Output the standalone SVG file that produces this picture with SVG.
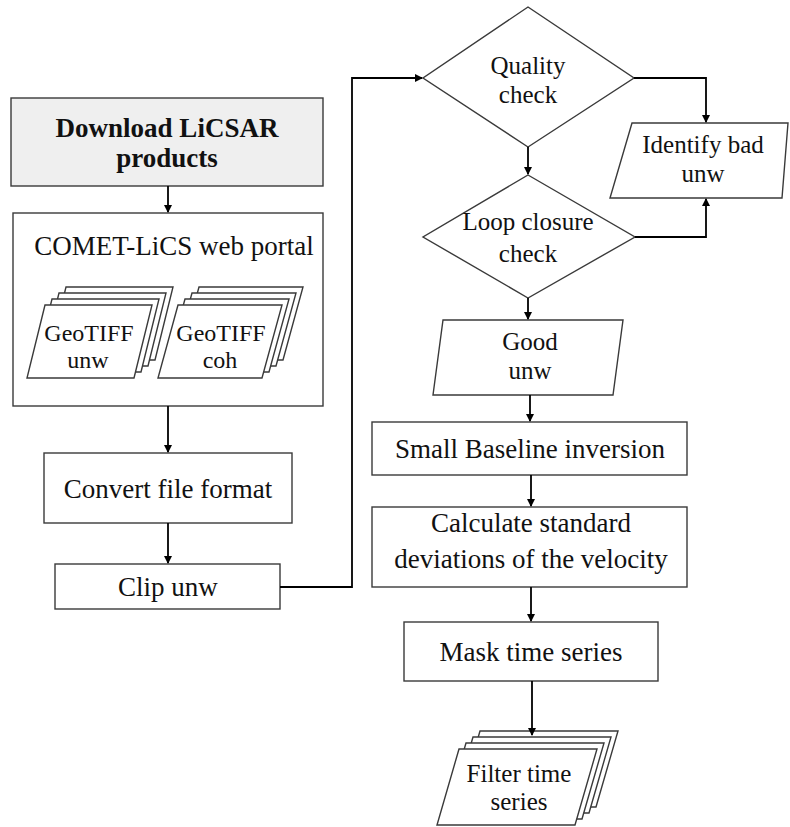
<svg xmlns="http://www.w3.org/2000/svg" width="790" height="827" viewBox="0 0 790 827">
<defs>
<marker id="arr" markerWidth="8" markerHeight="8" refX="7" refY="4" orient="auto" markerUnits="userSpaceOnUse">
<path d="M0,0 L8,4 L0,8 Z" fill="#000"/>
</marker>
<style>
.box{fill:#fff;stroke:#3a3a3a;stroke-width:1.4}
.gray{fill:#efefef}
.t{font-family:"Liberation Serif","Times New Roman",serif;font-size:27px;fill:#111;text-anchor:middle}
.s{font-size:25px}
.sm{font-size:24px}
.b{font-weight:bold}
.c{fill:none;stroke:#000;stroke-width:1.8}
</style>
</defs>
<rect width="790" height="827" fill="#fff"/>

<g id="download">
<rect class="box gray" x="11" y="98" width="312" height="88"/>
<text class="t b" x="167" y="137">Download LiCSAR</text>
<text class="t b" x="167" y="167">products</text>
</g>

<g id="comet">
<rect class="box" x="13" y="213" width="310" height="193"/>
<text class="t" x="174" y="255">COMET-LiCS web portal</text>
</g>

<g id="geotiff-unw">
<polygon class="box" points="66,287 173,287 155,360 48,360"/>
<polygon class="box" points="59,293 166,293 148,366 41,366"/>
<polygon class="box" points="52,299 159,299 141,372 34,372"/>
<polygon class="box" points="45,305 152,305 134,378 27,378"/>
<text class="t sm" x="89" y="341">GeoTIFF</text>
<text class="t sm" x="88" y="368">unw</text>
</g>

<g id="geotiff-coh">
<polygon class="box" points="199,287 303,287 283,360 179,360"/>
<polygon class="box" points="192,293 296,293 276,366 172,366"/>
<polygon class="box" points="185,299 289,299 269,372 165,372"/>
<polygon class="box" points="178,305 282,305 262,378 158,378"/>
<text class="t sm" x="221" y="341">GeoTIFF</text>
<text class="t sm" x="220" y="368">coh</text>
</g>

<g id="convert">
<rect class="box" x="44" y="453" width="248" height="70"/>
<text class="t" x="168" y="498">Convert file format</text>
</g>

<g id="clip">
<rect class="box" x="55" y="564" width="225" height="45"/>
<text class="t" x="168" y="596">Clip unw</text>
</g>

<g id="quality">
<polygon class="box" points="528,7 634,78 528,147 423,78"/>
<text class="t s" x="528" y="74">Quality</text>
<text class="t s" x="528" y="103">check</text>
</g>

<g id="identify">
<polygon class="box" points="632,123 788,123 782,198 610,198"/>
<text class="t s" x="703" y="153">Identify bad</text>
<text class="t s" x="703" y="182">unw</text>
</g>

<g id="loop">
<polygon class="box" points="528,175 635,237 528,298 423,237"/>
<text class="t s" x="528" y="230">Loop closure</text>
<text class="t s" x="528" y="262">check</text>
</g>

<g id="good">
<polygon class="box" points="443,320 623,320 613,395 433,395"/>
<text class="t s" x="530" y="350">Good</text>
<text class="t s" x="530" y="379">unw</text>
</g>

<g id="sbas">
<rect class="box" x="372" y="422" width="315" height="53"/>
<text class="t" x="530" y="458">Small Baseline inversion</text>
</g>

<g id="std">
<rect class="box" x="372" y="507" width="315" height="80"/>
<text class="t" x="531" y="532">Calculate standard</text>
<text class="t" x="531" y="568">deviations of the velocity</text>
</g>

<g id="mask">
<rect class="box" x="404" y="622" width="254" height="59"/>
<text class="t" x="531" y="661">Mask time series</text>
</g>

<g id="filter">
<polygon class="box" points="480,731 618,731 596,807 458,807"/>
<polygon class="box" points="473,737 611,737 589,813 451,813"/>
<polygon class="box" points="466,743 604,743 582,819 444,819"/>
<polygon class="box" points="459,749 597,749 575,825 437,825"/>
<text class="t s" x="519" y="782">Filter time</text>
<text class="t s" x="519" y="810">series</text>
</g>

<g id="connectors">
<line class="c" x1="168" y1="186" x2="168" y2="212" marker-end="url(#arr)"/>
<line class="c" x1="168" y1="406" x2="168" y2="452" marker-end="url(#arr)"/>
<line class="c" x1="168" y1="523" x2="168" y2="563" marker-end="url(#arr)"/>
<polyline class="c" points="280,587 352,587 352,78 422,78" marker-end="url(#arr)"/>
<line class="c" x1="528" y1="147" x2="528" y2="174" marker-end="url(#arr)"/>
<polyline class="c" points="634,78 706,78 706,122" marker-end="url(#arr)"/>
<polyline class="c" points="635,237 706,237 706,199" marker-end="url(#arr)"/>
<line class="c" x1="528" y1="298" x2="528" y2="319" marker-end="url(#arr)"/>
<line class="c" x1="530" y1="395" x2="530" y2="421" marker-end="url(#arr)"/>
<line class="c" x1="531" y1="475" x2="531" y2="506" marker-end="url(#arr)"/>
<line class="c" x1="531" y1="587" x2="531" y2="621" marker-end="url(#arr)"/>
<line class="c" x1="532" y1="681" x2="532" y2="735" marker-end="url(#arr)"/>
</g>
</svg>
